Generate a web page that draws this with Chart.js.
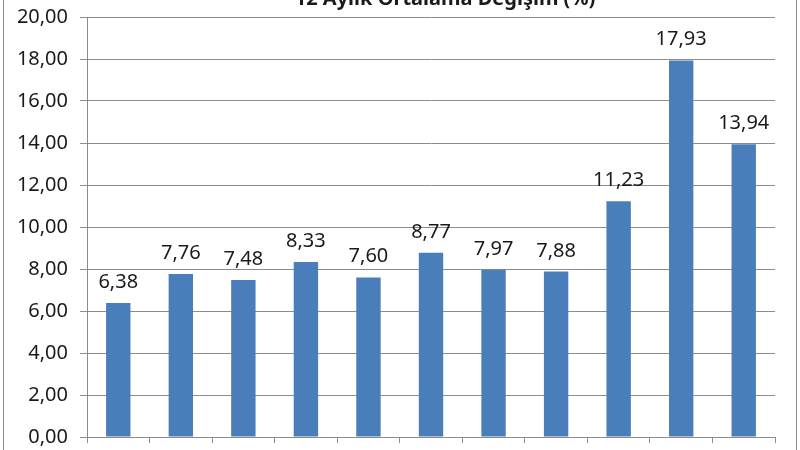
<!DOCTYPE html>
<html>
<head>
<meta charset="utf-8">
<script src="https://cdn.jsdelivr.net/npm/chart.js@4/dist/chart.umd.min.js"></script>
<style>
  html, body { margin: 0; padding: 0; background: #ffffff; overflow: hidden; }
  #wrap { position: absolute; left: 0; top: 0; width: 800px; height: 450px; overflow: hidden; }
  #frameL { position: absolute; left: 3px; top: 0; width: 1px; height: 450px; background: #8c8c8c; }
  #frameR { position: absolute; left: 796px; top: 0; width: 1px; height: 450px; background: #8c8c8c; }
  canvas { position: absolute; left: 0; top: -7px; }
</style>
</head>
<body>
<div id="wrap">
  <canvas id="c" width="800" height="468"></canvas>
  <div id="frameL"></div>
  <div id="frameR"></div>
</div>
<script>
const chartTitle = "12 Aylık Ortalama Değişim (%)";
const categories = ["1", "2", "3", "4", "5", "6", "7", "8", "9", "10", "11"];
const values = [6.38, 7.76, 7.48, 8.33, 7.60, 8.77, 7.97, 7.88, 11.23, 17.93, 13.94];
const yTicks = [0, 2, 4, 6, 8, 10, 12, 14, 16, 18, 20];

const FONT = "'Noto Sans', 'Open Sans', sans-serif";
const fmt = v => v.toFixed(2).replace('.', ',');

const labelPlugin = {
  id: 'valueLabels',
  afterDatasetsDraw(chart) {
    const ctx = chart.ctx;
    const meta = chart.getDatasetMeta(0);
    ctx.save();
    ctx.font = "20px " + FONT;
    ctx.fillStyle = '#1a1a1a';
    ctx.textAlign = 'center';
    ctx.textBaseline = 'alphabetic';
    meta.data.forEach((bar, i) => {
      ctx.fillText(fmt(values[i]), bar.x, bar.y - 15);
    });
    ctx.restore();
  }
};

const titlePlugin = {
  id: 'cutTitle',
  afterDraw(chart) {
    const ctx = chart.ctx;
    ctx.save();
    ctx.font = "bold 20px " + FONT;
    ctx.fillStyle = '#1a1a1a';
    ctx.textAlign = 'center';
    ctx.textBaseline = 'alphabetic';
    ctx.fillText(chartTitle, 445, 12);
    ctx.restore();
  }
};

new Chart(document.getElementById('c'), {
  type: 'bar',
  data: {
    labels: categories,
    datasets: [{
      data: values,
      backgroundColor: '#4a7ebb',
      borderWidth: 0,
      barPercentage: 0.39,
      categoryPercentage: 1.0
    }]
  },
  options: {
    responsive: false,
    animation: false,
    layout: { padding: { left: 0, right: 25, top: 17, bottom: 0 } },
    plugins: {
      legend: { display: false },
      tooltip: { enabled: false },
      title: { display: false }
    },
    scales: {
      x: {
        offset: true,
        grid: {
          offset: true,
          display: true,
          drawOnChartArea: false,
          drawTicks: true,
          tickLength: 6,
          color: '#8c8c8c',
          lineWidth: 1
        },
        border: { display: true, color: '#8c8c8c', width: 1 },
        ticks: { display: false },
        afterFit(scale) { scale.height = 13; }
      },
      y: {
        min: 0,
        max: 20,
        afterBuildTicks(scale) { scale.ticks = yTicks.map(v => ({ value: v })); },
        grid: {
          color: '#8c8c8c',
          lineWidth: 1,
          drawTicks: true,
          tickLength: 7
        },
        border: { display: true, color: '#8c8c8c', width: 1 },
        ticks: {
          padding: 12,
          color: '#1a1a1a',
          font: { family: FONT, size: 20 },
          callback: v => fmt(v)
        },
        afterFit(scale) { scale.width = 87; }
      }
    }
  },
  plugins: [labelPlugin, titlePlugin]
});
</script>
</body>
</html>
